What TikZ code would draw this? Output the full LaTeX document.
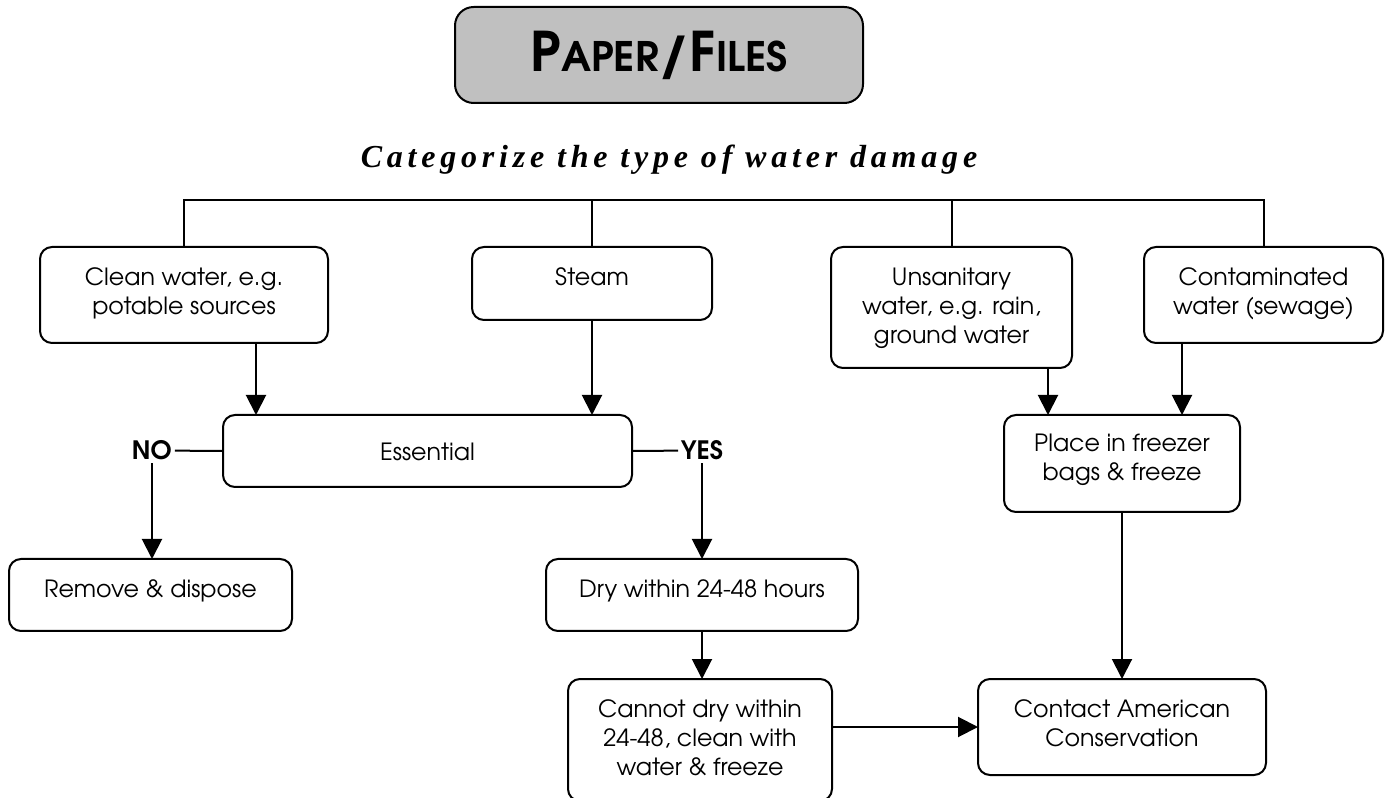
\documentclass[tikz,border=0pt]{standalone}
\usepackage{fontspec}
\setmainfont{texgyreadventor}[Extension=.otf,UprightFont=*-regular,BoldFont=*-bold,ItalicFont=*-italic,BoldItalicFont=*-bolditalic]
\newfontfamily\subfont{Liberation Serif}[LetterSpace=15]
\usetikzlibrary{arrows.meta}
\definecolor{titlegray}{HTML}{C0C0C0}
\newdimen\pxu \pxu=0.75pt
\newcommand\bt[4]{\parbox[c][#2\pxu][t]{#1\pxu}{\centering\rule{0pt}{#3\pxu}#4}}
\begin{document}
\begin{tikzpicture}[x=0.75pt,y=-0.75pt,
  box/.style={draw,line width=1.5pt,rounded corners=9pt,inner sep=0pt,outer sep=0pt,font=\fontsize{17.8}{21.75}\selectfont},
  conn/.style={line width=1.5pt},
  arr/.style={line width=1.5pt,-{Triangle[length=15pt,width=15pt]}},
  lbl/.style={font=\bfseries\fontsize{19}{21}\selectfont,inner xsep=2pt,inner ysep=2pt}]
\useasboundingbox (0,0) rectangle (1390,798);
\node[draw,line width=1.5pt,fill=titlegray,rounded corners=14pt,minimum width=306pt,minimum height=72pt,inner sep=0pt] (title) at (659,55)
  {\bfseries\fontsize{41}{41}\selectfont P\fontsize{30.5}{30.5}\selectfont APER\fontsize{41}{41}\selectfont/F\fontsize{30.5}{30.5}\selectfont ILES};
\node[anchor=base,inner sep=0pt,font=\subfont\bfseries\itshape\fontsize{24}{26}\selectfont] (sub) at (669,168) {Categorize the type of water damage};
\node[box] (clean) at (184,295) {\bt{288}{96}{39}{Clean water, e.g.\\potable sources}};
\node[box] (steam) at (592,283.5) {\bt{240}{73}{39}{Steam}};
\node[box] (unsan) at (951.5,307.5) {\bt{241}{121}{39}{Unsanitary\\water, e.g. rain,\\ground water}};
\node[box] (contam) at (1263.5,295) {\bt{239}{96}{39}{Contaminated\\water (sewage)}};
\node[box] (ess) at (427.5,451) {\bt{409}{72}{46}{Essential}};
\node[box] (place) at (1122,463.5) {\bt{236}{97}{37}{Place in freezer\\bags \& freeze}};
\node[box] (remove) at (150.5,595) {\bt{283}{72}{39}{Remove \& dispose}};
\node[box] (dry) at (702,595) {\bt{312}{72}{39}{Dry within 24-48 hours}};
\node[box] (cannot) at (700,740) {\bt{264}{122}{38}{Cannot dry within\\24-48, clean with\\water \& freeze}};
\node[box] (contact) at (1122,727) {\bt{288}{96}{38}{Contact American\\Conservation}};
\node[lbl,anchor=base] (no) at (152,460) {NO};
\node[lbl,anchor=base] (yes) at (702,460) {YES};
\coordinate (busy) at (0,200);
\coordinate (c1) at (256,0);
\coordinate (c2) at (1048,0);
\coordinate (c3) at (1182,0);
\draw[conn] (clean.north) -- (clean.north |- busy) -- (contam.north |- busy) -- (contam.north);
\draw[conn] (steam.north) -- (steam.north |- busy);
\draw[conn] (unsan.north) -- (unsan.north |- busy);
\draw[arr] (clean.south -| c1) -- (ess.north -| c1);
\draw[arr] (steam.south) -- (steam.south |- ess.north);
\draw[conn] (ess.west) -- (no.east);
\draw[arr] (no.south) -- (no.south |- remove.north);
\draw[conn] (ess.east) -- (yes.west);
\draw[arr] (yes.south) -- (yes.south |- dry.north);
\draw[arr] (dry.south) -- (dry.south |- cannot.north);
\draw[arr] (cannot.east |- contact.west) -- (contact.west);
\draw[arr] (unsan.south -| c2) -- (place.north -| c2);
\draw[arr] (contam.south -| c3) -- (place.north -| c3);
\draw[arr] (place.south) -- (contact.north);
\end{tikzpicture}
\end{document}
